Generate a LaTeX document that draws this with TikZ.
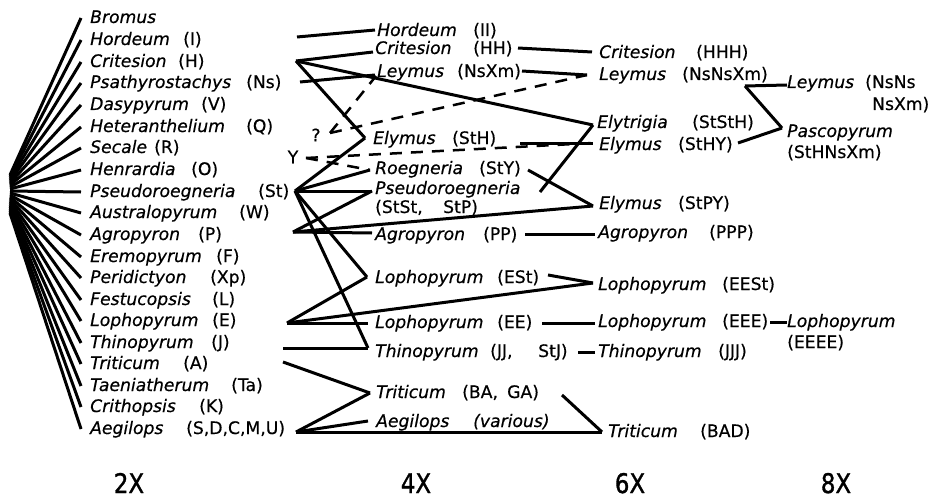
\documentclass[tikz,border=0pt]{standalone}
\usepackage{fontspec}
\setmainfont{DejaVu Sans}
\newfontfamily\lblfont[FakeBold=0.5]{DejaVu Sans}
\newfontfamily\axisfont[FakeStretch=0.85,FakeBold=1.2]{DejaVu Sans}
\begin{document}
\begin{tikzpicture}[x=1pt,y=-1pt,
  lbl/.style={anchor=base west, inner sep=0pt, font=\lblfont\fontsize{17.2}{18}\selectfont\itshape},
  cod/.style={anchor=base west, inner sep=0pt, font=\lblfont\fontsize{17.2}{18}\selectfont},
  sym/.style={inner sep=0pt, font=\lblfont\fontsize{17.2}{18}\selectfont},
  ln/.style={line width=3pt},
  fan/.style={line width=3pt},
  dsh/.style={line width=2.5pt, dash pattern=on 12pt off 9pt},
  axis/.style={inner sep=0pt, anchor=base, font=\axisfont\fontsize{27}{30}\selectfont}]
\useasboundingbox (0,0) rectangle (931,500);

% ---------------- 2X column ----------------
\node[lbl] (b1) at (90,23) {Bromus};
\coordinate (r1) at (10,175);
\coordinate (f1) at (81,18);
\draw[fan] (r1) -- (f1);
\foreach \i/\nm/\cd/\cx/\cy in {
  2/Hordeum/(I)/183/39,
  3/Critesion/(H)/178/61,
  4/Psathyrostachys/(Ns)/246/82,
  5/Dasypyrum/(V)/201/104,
  6/Heteranthelium/(Q)/246/126,
  7/Secale/(R)/154/147,
  8/Henrardia/(O)/191/169,
  9/Pseudoroegneria/(St)/258/191,
  10/Australopyrum/(W)/239/212,
  11/Agropyron/(P)/198/234,
  12/Eremopyrum/(F)/216/256,
  13/Peridictyon/(Xp)/210/277,
  14/Festucopsis/(L)/212/299,
  15/Lophopyrum/(E)/212/320,
  16/Thinopyrum/(J)/211/342,
  17/Triticum/(A)/183/363,
  18/Taeniatherum/(Ta)/231/385,
  19/Crithopsis/(K)/199/406,
  20/Aegilops/{(S,D,C,M,U)}/186/428}{
  \node[lbl] (b\i) at (90,\cy+6) {\nm};
  \node[cod] (c\i) at (\cx,\cy+6) {\cd};
  \coordinate (r\i) at (10,175+2*\i-2);
  \coordinate (f\i) at (81,\cy+1);
  \draw[fan] (r\i) -- (f\i);
}

% 2X junction points
\coordinate (hI) at (297,37);
\coordinate (H)  at (296,61);
\coordinate (Ns) at (300,82);
\coordinate (St) at (295,191);
\coordinate (P)  at (293,232);
\coordinate (E)  at (287,323);
\coordinate (J)  at (283,348);
\coordinate (A)  at (283,362);
\coordinate (S)  at (296,432);

\node[sym] (qm) at (316,135) {?};
\node[sym] (Y) at (293,157) {Y};

% ---------------- 4X column ----------------
\node[lbl] (n4a) at (377,36) {Hordeum};       \node[cod] at (473,36) {(II)};
\node[lbl] (n4b) at (375,54) {Critesion};     \node[cod] at (473,54) {(HH)};
\node[lbl] (n4c) at (377,77) {Leymus};        \node[cod] at (457,77) {(NsXm)};
\node[lbl] (n4d) at (373,144) {Elymus};       \node[cod] at (452,144) {(StH)};
\node[lbl] (n4e) at (375,174) {Roegneria};    \node[cod] at (479,174) {(StY)};
\node[lbl] (n4f) at (375,194) {Pseudoroegneria};
\node[cod] at (375,213) {(StSt,}; \node[cod] at (443,213) {StP)};
\node[lbl] (n4g) at (375,240) {Agropyron};    \node[cod] at (483,240) {(PP)};
\node[lbl] (n4h) at (375,283) {Lophopyrum};   \node[cod] at (497,283) {(ESt)};
\node[lbl] (n4i) at (375,328) {Lophopyrum};   \node[cod] at (497,328) {(EE)};
\node[lbl] (n4j) at (375,357) {Thinopyrum};   \node[cod] at (490,357) {(JJ,}; \node[cod] at (538,357) {StJ)};
\node[lbl] (n4k) at (376,398) {Triticum};     \node[cod] at (462,398) {(BA,}; \node[cod] at (507,398) {GA)};
\node[lbl] (n4l) at (376,427) {Aegilops};     \node[lbl] at (473,427) {(various)};

\coordinate (IIl)   at (375,30);
\coordinate (HHl)   at (373,52);
\coordinate (NsXml) at (375,75);
\coordinate (StHl)  at (365,138);
\coordinate (StYl)  at (370,170);
\coordinate (StStl) at (372,191);
\coordinate (PPl)   at (372,233);
\coordinate (EStl)  at (367,277);
\coordinate (EEl)   at (368,323);
\coordinate (JJl)   at (368,348);
\coordinate (BAl)   at (370,393);
\coordinate (varl)  at (368,421);

\coordinate (HHr)   at (518,48);
\coordinate (NsXmr) at (522,71);
\coordinate (StHr)  at (520,143);
\coordinate (StYr)  at (528,170);
\coordinate (StStr) at (540,192);
\coordinate (PPr)   at (525,234);
\coordinate (EStr)  at (548,275);
\coordinate (EEr)   at (542,323);
\coordinate (JJr)   at (578,352);
\coordinate (BAr)   at (562,395);

% ---------------- 6X column ----------------
\node[lbl] (n6a) at (599,58)  {Critesion};   \node[cod] at (696,58)  {(HHH)};
\node[lbl] (n6b) at (599,80)  {Leymus};      \node[cod] at (682,80)  {(NsNsXm)};
\node[lbl] (n6c) at (597,128) {Elytrigia};   \node[cod] at (692,128) {(StStH)};
\node[lbl] (n6d) at (599,150) {Elymus};      \node[cod] at (678,150) {(StHY)};
\node[lbl] (n6e) at (599,209) {Elymus};      \node[cod] at (678,209) {(StPY)};
\node[lbl] (n6f) at (598,238) {Agropyron};   \node[cod] at (709,238) {(PPP)};
\node[lbl] (n6g) at (598,290) {Lophopyrum};  \node[cod] at (722,290) {(EESt)};
\node[lbl] (n6h) at (598,327) {Lophopyrum};  \node[cod] at (722,327) {(EEE)};
\node[lbl] (n6i) at (598,357) {Thinopyrum};  \node[cod] at (718,357) {(JJJ)};
\node[lbl] (n6j) at (608,437) {Triticum};    \node[cod] at (700,437) {(BAD)};

\coordinate (HHHl)  at (592,52);
\coordinate (NsNsl) at (587,75);
\coordinate (StStHl) at (593,125);
\coordinate (StHYl) at (593,143);
\coordinate (StPYl) at (593,206);
\coordinate (PPPl)  at (595,234);
\coordinate (EEStl) at (593,283);
\coordinate (EEEl)  at (595,323);
\coordinate (JJJl)  at (595,352);
\coordinate (BADl)  at (602,432);

\coordinate (NsNsr) at (745,86);
\coordinate (StHYr) at (738,143);
\coordinate (EEEr)  at (770,322);

% ---------------- 8X column ----------------
\node[lbl] (n8a) at (787,88)  {Leymus}; \node[cod] at (865,88) {(NsNs};
\node[cod] at (872,110) {NsXm)};
\node[lbl] (n8b) at (787,137) {Pascopyrum};
\node[cod] at (787,158) {(StHNsXm)};
\node[lbl] (n8c) at (787,327) {Lophopyrum};
\node[cod] at (787,348) {(EEEE)};

\coordinate (Ley8l)  at (787,85);
\coordinate (Pascl)  at (782,128);
\coordinate (Loph8l) at (787,322);

% ---------------- connectors 2X -> 4X ----------------
\draw[ln] (hI) -- (IIl);
\draw[ln] (H) -- (HHl);
\draw[ln] (H) -- (StHl);
\draw[ln] (H) -- (StStHl);
\draw[ln] (Ns) -- (NsXml);
\draw[ln] (St) -- (StHl);
\draw[ln] (St) -- (StYl);
\draw[ln] (St) -- (StStl);
\draw[ln] (St) -- (EStl);
\draw[ln] (St) -- (JJl);
\draw[ln] (P) -- (StStl);
\draw[ln] (P) -- (PPl);
\draw[ln] (P) -- (StPYl);
\draw[ln] (E) -- (EStl);
\draw[ln] (E) -- (EEl);
\draw[ln] (E) -- (EEStl);
\draw[ln] (J) -- (JJl);
\draw[ln] (A) -- (BAl);
\draw[ln] (S) -- (BAl);
\draw[ln] (S) -- (varl);
\draw[ln] (S) -- (BADl);

% dashed
\coordinate (q0) at (330,133);
\coordinate (q1) at (376,76);
\coordinate (y0) at (306,158);
\draw[dsh] (q0) -- (q1);
\draw[dsh] (q0) -- (NsNsl);
\draw[dsh] (y0) -- (StHYl);
\draw[dsh] (y0) -- (StYl);

% ---------------- connectors 4X -> 6X ----------------
\draw[ln] (HHr) -- (HHHl);
\draw[ln] (NsXmr) -- (NsNsl);
\draw[ln] (StHr) -- (StHYl);
\draw[ln] (StYr) -- (StPYl);
\draw[ln] (StStr) -- (StStHl);
\draw[ln] (PPr) -- (PPPl);
\draw[ln] (EStr) -- (EEStl);
\draw[ln] (EEr) -- (EEEl);
\draw[ln] (JJr) -- (JJJl);
\draw[ln] (BAr) -- (BADl);

% ---------------- connectors 6X -> 8X ----------------
\draw[ln] (NsNsr) -- (Ley8l);
\draw[ln] (NsNsr) -- (Pascl);
\draw[ln] (StHYr) -- (Pascl);
\draw[ln] (EEEr) -- (Loph8l);

% ---------------- ploidy axis ----------------
\node[axis] (x2) at (129,493) {2X};
\node[axis] (x4) at (416,493) {4X};
\node[axis] (x6) at (630,493) {6X};
\node[axis] (x8) at (836,493) {8X};
\end{tikzpicture}
\end{document}
